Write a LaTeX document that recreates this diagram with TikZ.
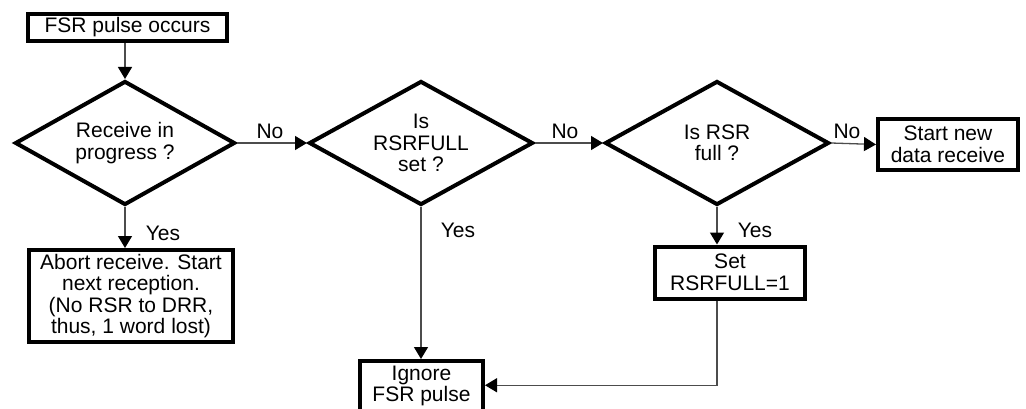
\documentclass[tikz,border=0pt]{standalone}
\usepackage{fontspec}
\setmainfont{Liberation Sans}
\usetikzlibrary{shapes.geometric,arrows.meta}
\begin{document}
\begin{tikzpicture}[x=1pt,y=-1pt,
  every node/.style={font=\fontsize{21}{21.5}\selectfont, inner sep=0pt, align=center},
  procbox/.style={draw=black, line width=4pt, rectangle, fill=white, line join=miter},
  decision/.style={draw=black, line width=4pt, shape=diamond, shape aspect=1.8,
    minimum width=220pt, minimum height=124pt, line join=miter},
  conn/.style={draw=black!70, line width=1.3pt, -{Triangle[length=12pt,width=14pt,color=black]}},
  lbl/.style={}]
\useasboundingbox (0,0) rectangle (1026,409);
\clip (0,0) rectangle (1026,409);

\node[procbox, minimum width=199pt, minimum height=27pt] (start) at (127.5,27.5) {FSR pulse occurs};
\node[decision] (d1) at (125,143) {Receive in\\progress ?};
\node[decision, minimum width=224pt] (d2) at (421,143) {Is\\RSRFULL\\set ?};
\node[decision, minimum width=224pt] (d3) at (717,143) {Is RSR\\full ?};
\node[procbox, minimum width=140pt, minimum height=51pt] (newrx) at (948,144.5) {Start new\\data receive};
\node[procbox, minimum width=204pt, minimum height=92pt] (abort) at (131,296) {Abort receive. Start\\next reception.\\(No RSR to DRR,\\thus, 1 word lost)};
\node[procbox, minimum width=150pt, minimum height=52pt] (setf) at (730,272.5) {Set\\RSRFULL=1};
\node[procbox, minimum width=123pt, anchor=north] (ign) at (421.5,359)
  {\rule{0pt}{19pt}Ignore\\FSR pulse\rule[-16pt]{0pt}{16pt}};

\node[lbl] (no1) at (270,131) {No};
\node[lbl] (no2) at (565,131) {No};
\node[lbl] (no3) at (847,131) {No};
\node[lbl] (yes1) at (163,233) {Yes};
\node[lbl] (yes2) at (458,230) {Yes};
\node[lbl] (yes3) at (755,230) {Yes};

\draw[conn] (d1.north |- start.south) -- (d1.north);
\draw[conn] (d1.east) -- (d2.west);
\draw[conn] (d2.east) -- (d3.west);
\draw[conn] (d3.east) -- (newrx.west);
\draw[conn] (d1.south) -- (d1.south |- abort.north);
\draw[conn] (d2.south) -- (d2.south |- ign.north);
\draw[conn] (d3.south) -- (d3.south |- setf.north);
\draw[conn] (d3.south |- setf.south) |- ([yshift=4pt]ign.east);
\end{tikzpicture}
\end{document}
